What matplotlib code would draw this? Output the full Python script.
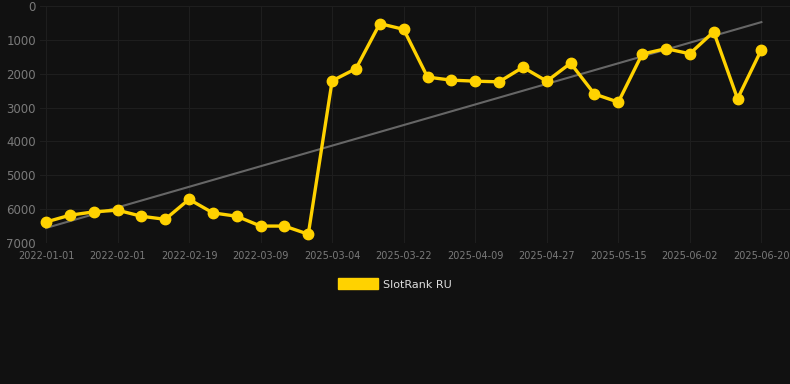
import matplotlib.pyplot as plt
import numpy as np
from matplotlib.patches import Patch

dates = [
    "2022-01-01", "2022-01-11", "2022-01-21", "2022-02-01", "2022-02-07", "2022-02-13",
    "2022-02-19", "2022-02-25", "2022-03-03", "2022-03-09", "2022-03-15", "2022-03-21",
    "2025-03-04", "2025-03-10", "2025-03-16", "2025-03-22", "2025-03-28", "2025-04-03",
    "2025-04-09", "2025-04-15", "2025-04-21", "2025-04-27", "2025-05-03", "2025-05-09",
    "2025-05-15", "2025-05-21", "2025-05-27", "2025-06-02", "2025-06-08", "2025-06-14",
    "2025-06-20",
]
rank = [
    6380, 6180, 6080, 6030, 6210, 6300, 5710, 6110, 6210, 6500, 6500, 6740,
    2210, 1850, 520, 690, 2100, 2190, 2220, 2240, 1810, 2220, 1690, 2600,
    2840, 1420, 1260, 1410, 760, 2740, 1290,
]

bg = "#111111"
gold = "#FFD200"

x = np.arange(len(rank))
slope, intercept = np.polyfit(x, rank, 1)
trend = slope * x + intercept

fig = plt.figure(figsize=(7.9, 3.84), dpi=100, facecolor=bg)
ax = fig.add_axes([40 / 790, 1 - 243 / 384, 750 / 790, 237 / 384])
ax.set_facecolor(bg)

ax.plot(x, trend, color="#666666", lw=1.5, zorder=2)
ax.plot(x, rank, color=gold, lw=2.4, marker="o", markersize=7.5, zorder=3)

ax.set_ylim(7000, 0)
ax.set_yticks(range(0, 7001, 1000))
ax.set_xlim(-0.25, 31.2)
ax.set_xticks(x[::3])
ax.set_xticklabels(dates[::3])

ax.grid(True, color="#1e1e1e", lw=0.8)
for s in ax.spines.values():
    s.set_visible(False)
ax.tick_params(axis="x", colors="#7a7a7a", labelsize=7, length=0, pad=6)
ax.tick_params(axis="y", colors="#7a7a7a", labelsize=8.5, length=0, pad=3)

fig.legend(
    handles=[Patch(facecolor=gold, edgecolor=gold)],
    labels=["SlotRank RU"],
    loc="center",
    bbox_to_anchor=(0.5, 1 - 284 / 384),
    frameon=False,
    handlelength=3.6,
    handleheight=1.1,
    handletextpad=0.5,
    labelcolor="#dddddd",
    fontsize=8,
)

fig.savefig("out.png", facecolor=bg)
